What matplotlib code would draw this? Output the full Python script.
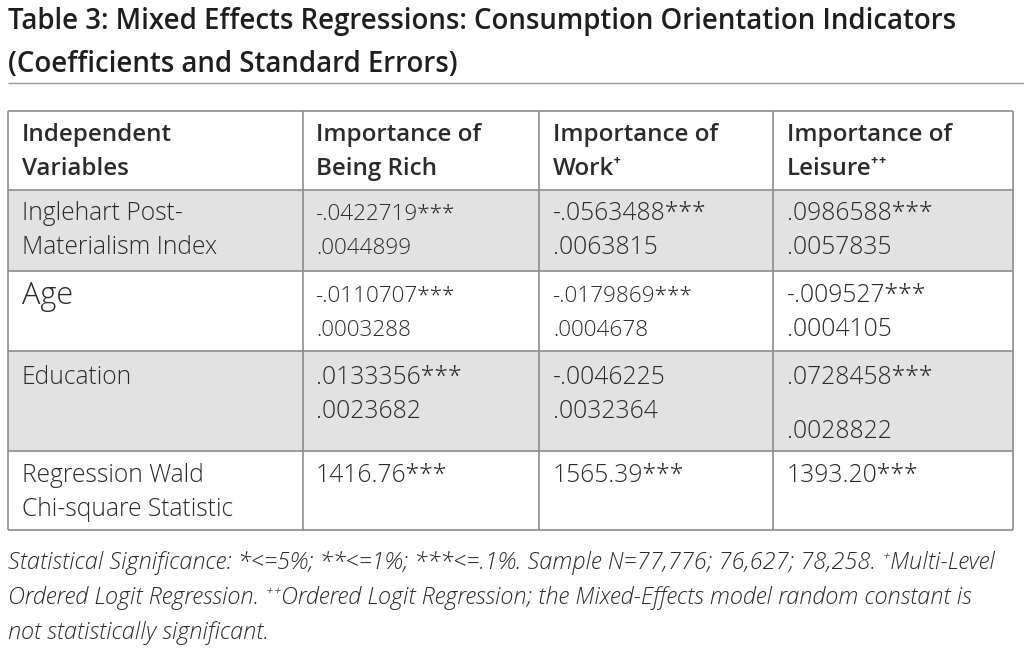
#!/usr/bin/env python3
# -*- coding: utf-8 -*-
import matplotlib
matplotlib.use("Agg")
from matplotlib import pyplot as plt
from matplotlib.patches import Rectangle

# ---- table content -------------------------------------------------------
title_lines = ["Table 3: Mixed Effects Regressions: Consumption Orientation Indicators",
               "(Coefficients and Standard Errors)"]

col_headers = [["Independent", "Variables"],
               ["Importance of", "Being Rich"],
               ["Importance of", "Work\u207a"],
               ["Importance of", "Leisure\u207a\u207a"]]

row_labels = [["Inglehart Post-", "Materialism Index"],
              ["Age"],
              ["Education"],
              ["Regression Wald", "Chi-square Statistic"]]

coefs = [["-.0422719***", "-.0563488***", ".0986588***"],
         ["-.0110707***", "-.0179869***", "-.009527***"],
         [".0133356***", "-.0046225", ".0728458***"]]
std_errs = [[".0044899", ".0063815", ".0057835"],
            [".0003288", ".0004678", ".0004105"],
            [".0023682", ".0032364", ".0028822"]]
wald_chi2 = ["1416.76***", "1565.39***", "1393.20***"]

footnote = ["Statistical Significance: *<=5%; **<=1%; ***<=.1%. Sample N=77,776; 76,627; 78,258. \u207aMulti-Level",
            "Ordered Logit Regression. \u207a\u207aOrdered Logit Regression; the Mixed-Effects model random constant is",
            "not statistically significant."]

# ---- layout ---------------------------------------------------------------
W, H = 1024, 652
x_edges = [8, 303, 539, 773, 1013]
y_edges = [111, 190, 271, 351, 451, 530]
shaded = [1, 3]                        # table rows (0 = header) with grey fill
line_y = {0: (135, 169), 1: (214, 248), 2: (296, 330), 3: (378, 412), 4: (476, 510)}

FAM = ["Open Sans", "Lato", "DejaVu Sans"]
TXT = "#2b2b2b"
GRID = "#8c8c8c"

fig = plt.figure(figsize=(W / 100, H / 100), dpi=100)
ax = fig.add_axes([0, 0, 1, 1])
ax.set_xlim(0, W)
ax.set_ylim(H, 0)
ax.axis("off")
renderer = fig.canvas.get_renderer()


def fit_size(text, width, **kw):
    """font size (pt) at which `text` is `width` pixels wide"""
    t = ax.text(0, 0, text, fontsize=10, family=FAM, **kw)
    w = t.get_window_extent(renderer).width
    t.remove()
    return 10 * width / w


title_fs = fit_size(title_lines[0], 950, weight=600)
head_fs = fit_size("Independent", 150, weight=600)
body_fs = fit_size("Materialism Index", 196, weight=300)
age_fs = fit_size("Age", 51, weight=300)
note_fs = fit_size(footnote[0], 982, style="italic", weight=300)
small_fs = body_fs * 0.91

# title + rule
for i, t in enumerate(title_lines):
    ax.text(8, 22 + 42 * i, t, family=FAM, weight=600, fontsize=title_fs,
            color="#1e1e1e", va="center", ha="left")
ax.hlines(83, 8, W, color="#9a9a9a", lw=1.0)

# shaded rows
for r in shaded:
    ax.add_patch(Rectangle((x_edges[0], y_edges[r]), x_edges[-1] - x_edges[0],
                           y_edges[r + 1] - y_edges[r], color="#e2e2e2", lw=0, zorder=0))

# grid
ax.hlines(y_edges, x_edges[0], x_edges[-1], color=GRID, lw=1.2)
ax.vlines(x_edges, y_edges[0], y_edges[-1], color=GRID, lw=1.2)


def cell(col, row, lines, size=None, weight=300, shift=(0, 0)):
    pad = 13 if col == 1 else 14
    for k, t in enumerate(lines):
        ax.text(x_edges[col] + pad, line_y[row][k] + (shift[k] if k < len(shift) else 0), t,
                family=FAM, weight=weight, fontsize=size or body_fs, color=TXT,
                va="center", ha="left")


# header
for c, hdr in enumerate(col_headers):
    cell(c, 0, hdr, size=head_fs, weight=600)

# labels
for r, lab in enumerate(row_labels):
    cell(0, r + 1, lab, size=age_fs if lab == ["Age"] else body_fs)

# coefficient / SE cells (a few cells in the source are set in a smaller size)
small = {(0, 0), (1, 0), (1, 1)}
for r in range(3):
    for c in range(3):
        sz = small_fs if (r, c) in small else body_fs
        shift = (0, 19) if (r, c) == (2, 2) else (0, 0)
        cell(c + 1, r + 1, [coefs[r][c], std_errs[r][c]], size=sz, shift=shift)

for c, v in enumerate(wald_chi2):
    cell(c + 1, 4, [v])

# footnote
for i, t in enumerate(footnote):
    ax.text(8, 563 + 35 * i, t, family=FAM, style="italic", weight=300, fontsize=note_fs,
            color=TXT, va="center", ha="left")

fig.savefig("out.png", dpi=100, facecolor="white")
